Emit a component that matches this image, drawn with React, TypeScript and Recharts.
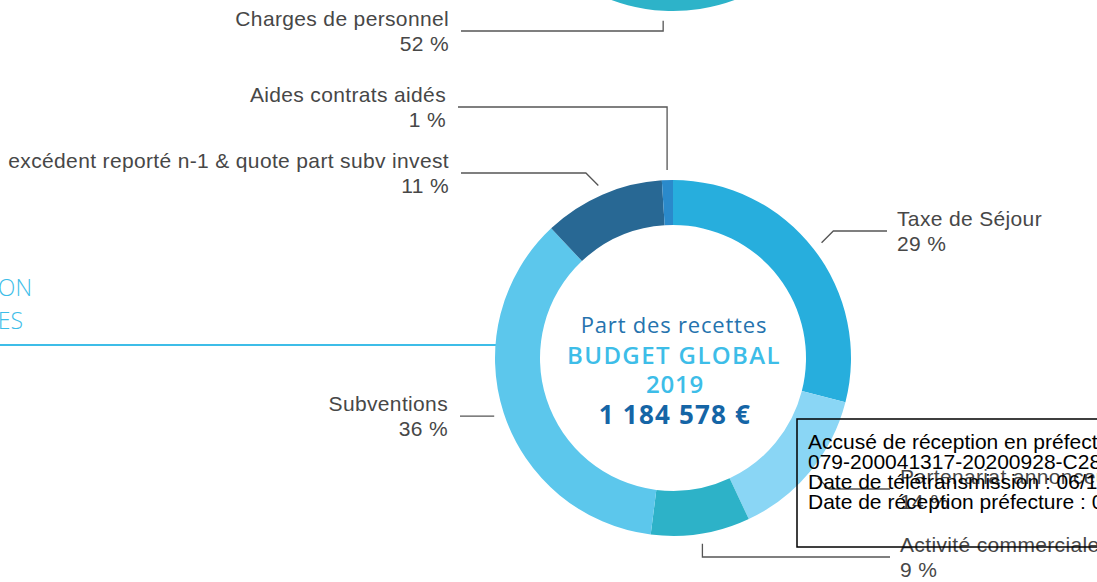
import React from 'react';
import { PieChart, Pie, Cell } from 'recharts';

const W = 1097;
const H = 582;

// Recettes (main donut)
const recetteCategories = [
  'Taxe de Séjour',
  'Partenariat annonceurs',
  'Activité commerciale',
  'Subventions',
  'excédent reporté n-1 & quote part subv invest',
  'Aides contrats aidés',
];
const recetteValues = [29, 14, 9, 36, 11, 1];
const recetteColors = ['#27AEDD', '#8AD6F5', '#2DB2C8', '#5CC7EC', '#286894', '#2A8ACB'];

// Dépenses (donut cut off at the top)
const depenseCategories = ['Charges de personnel', 'Autres charges'];
const depenseValues = [52, 48];
const depenseColors = ['#2DB3C9', '#5CC7EC'];

const centerLines = ['Part des recettes', 'BUDGET GLOBAL', '2019', '1 184 578 €'];
const sideTitleLines = ['ON', 'ES'];
const stampLines = [
  'Accusé de réception en préfecture',
  '079-200041317-20200928-C28-DE',
  'Date de télétransmission : 06/10/2020',
  'Date de réception préfecture : 06/10/2020',
];

const recetteData = recetteCategories.map((name, i) => ({ name, value: recetteValues[i] }));
const depenseData = depenseCategories.map((name, i) => ({ name, value: depenseValues[i] }));

type Layout = { lineY?: number; endX: number; mode: 'diag' | 'vert' | 'flat' };
const labelLayout: Record<string, Layout> = {
  'Taxe de Séjour': { lineY: 231, endX: 887, mode: 'diag' },
  'Partenariat annonceurs': { lineY: 489, endX: 890, mode: 'diag' },
  'Activité commerciale': { lineY: 557, endX: 890, mode: 'vert' },
  Subventions: { endX: 460, mode: 'flat' },
  'excédent reporté n-1 & quote part subv invest': { lineY: 173, endX: 461, mode: 'diag' },
  'Aides contrats aidés': { lineY: 107, endX: 458, mode: 'vert' },
  'Charges de personnel': { lineY: 31, endX: 461, mode: 'vert' },
};

const RAD = Math.PI / 180;
const LABEL_FONT = '"Liberation Sans", Arial, sans-serif';
const CENTER_FONT = '"Open Sans", sans-serif';

const makeLabel = (names: string[], values: number[]) => (props: any) => {
  const { cx, cy, midAngle, outerRadius, index } = props;
  const name = names[index];
  const layout = labelLayout[name];
  if (!layout) return null;
  const r = outerRadius + 10;
  const sx = cx + r * Math.cos(-midAngle * RAD);
  const sy = cy + r * Math.sin(-midAngle * RAD);
  const left = layout.endX < sx;
  let ex = sx;
  let ey = sy;
  if (layout.mode === 'diag' && layout.lineY !== undefined) {
    const d = Math.abs(layout.lineY - sy);
    ex = sx + (left ? -d : d);
    ey = layout.lineY;
  } else if (layout.mode === 'vert' && layout.lineY !== undefined) {
    ex = sx;
    ey = layout.lineY;
  }
  const tx = left ? layout.endX - 12 : layout.endX + 10;
  const anchor = left ? 'end' : 'start';
  return (
    <g key={`lbl-${name}`}>
      <polyline
        points={`${sx},${sy} ${ex},${ey} ${layout.endX},${ey}`}
        fill="none"
        stroke="#555"
        strokeWidth={1.3}
      />
      <text x={tx} y={ey - 5} textAnchor={anchor} fontFamily={LABEL_FONT} fontSize={21} letterSpacing={0.35} fill="#474747">
        {name}
      </text>
      <text x={tx} y={ey + 20} textAnchor={anchor} fontFamily={LABEL_FONT} fontSize={21} letterSpacing={0.35} fill="#474747">
        {`${values[index]} %`}
      </text>
    </g>
  );
};

const depenseStart = 90 - (183 - (depenseValues[0] * 3.6) / 2);

export default function App() {
  return (
    <div style={{ position: 'absolute', left: 0, top: 0, width: W, height: H, background: '#fff', overflow: 'hidden' }}>
      <svg width={W} height={H} style={{ position: 'absolute', left: 0, top: 0 }}>
        {sideTitleLines.map((t, i) => (
          <text
            key={t}
            x={i === 0 ? 32 : 23}
            y={296 + i * 33}
            textAnchor="end"
            fontFamily={CENTER_FONT}
            fontSize={23}
            fontWeight={300}
            fill="#3DBDE8"
          >
            {t}
          </text>
        ))}
        <line x1={0} y1={345} x2={497} y2={345} stroke="#3DBDE8" strokeWidth={2} />
      </svg>
      <div style={{ position: 'absolute', left: 0, top: 0 }}>
        <PieChart width={W} height={H} margin={{ top: 0, right: 0, bottom: 0, left: 0 }}>
          <Pie
            data={depenseData}
            dataKey="value"
            nameKey="name"
            cx={673}
            cy={-167}
            innerRadius={133}
            outerRadius={178}
            startAngle={depenseStart}
            endAngle={depenseStart - 360}
            stroke="none"
            isAnimationActive={false}
            labelLine={false}
            label={makeLabel(depenseCategories, depenseValues)}
          >
            {depenseData.map((d, i) => (
              <Cell key={d.name} fill={depenseColors[i]} />
            ))}
          </Pie>
          <Pie
            data={recetteData}
            dataKey="value"
            nameKey="name"
            cx={673}
            cy={358}
            innerRadius={133}
            outerRadius={178}
            startAngle={90}
            endAngle={-270}
            stroke="none"
            isAnimationActive={false}
            labelLine={false}
            label={makeLabel(recetteCategories, recetteValues)}
          >
            {recetteData.map((d, i) => (
              <Cell key={d.name} fill={recetteColors[i]} />
            ))}
          </Pie>
        </PieChart>
      </div>
      <svg width={W} height={H} style={{ position: 'absolute', left: 0, top: 0, pointerEvents: 'none' }}>
        <text x={674} y={333} textAnchor="middle" fontFamily={CENTER_FONT} fontSize={22} letterSpacing={0.8} fill="#2573AE">
          {centerLines[0]}
        </text>
        <text x={674} y={364} textAnchor="middle" fontFamily={CENTER_FONT} fontSize={24} fontWeight={600} letterSpacing={1.4} fill="#3DBDE8">
          {centerLines[1]}
        </text>
        <text x={675} y={393} textAnchor="middle" fontFamily={CENTER_FONT} fontSize={24} fontWeight={600} letterSpacing={0.8} fill="#3DBDE8">
          {centerLines[2]}
        </text>
        <text x={675} y={424} textAnchor="middle" fontFamily={CENTER_FONT} fontSize={26} fontWeight={700} letterSpacing={1.2} fill="#1565A6">
          {centerLines[3]}
        </text>
        <rect x={797} y={419} width={320} height={128} fill="none" stroke="#000" strokeWidth={1.5} />
        {stampLines.map((t, i) => (
          <text key={t} x={808} y={449 + i * 20} fontFamily={LABEL_FONT} fontSize={21} fill="#000">
            {t}
          </text>
        ))}
      </svg>
    </div>
  );
}
